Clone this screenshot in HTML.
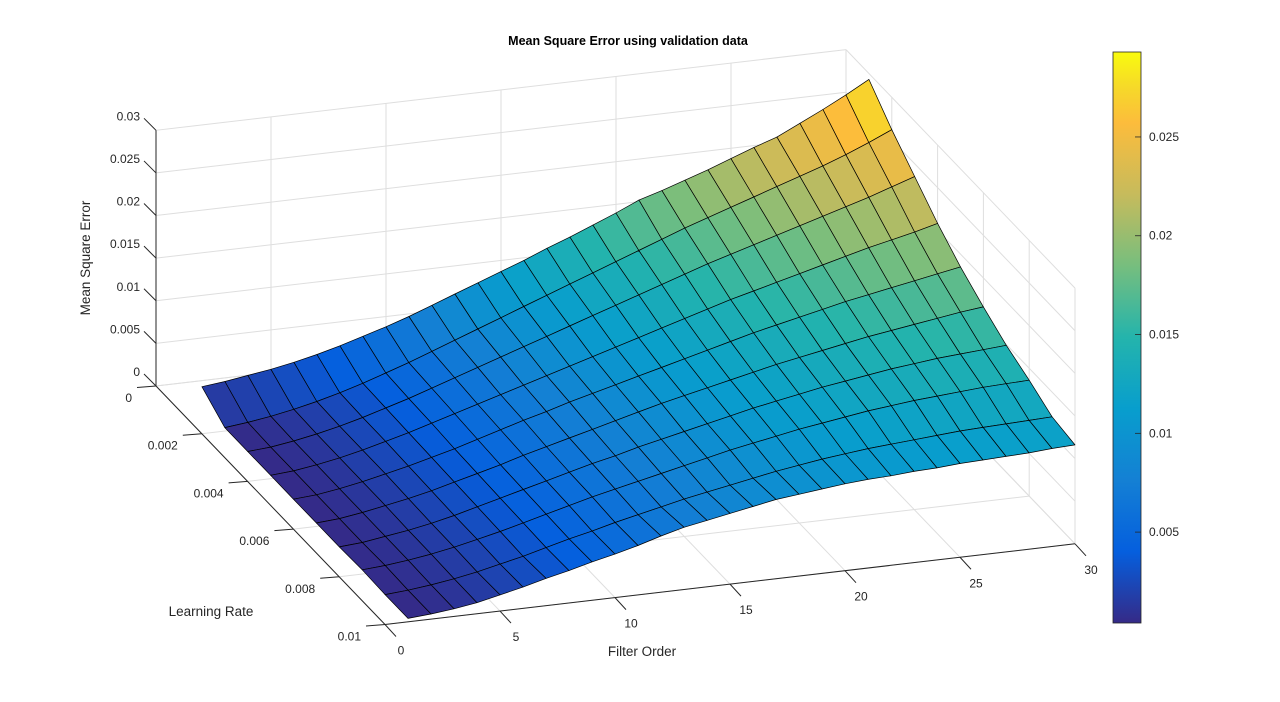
<!DOCTYPE html>
<html>
<head>
<meta charset="utf-8">
<style>
html,body{margin:0;padding:0;background:#fff;}
svg{display:block;font-family:"Liberation Sans",Arial,sans-serif;}
</style>
</head>
<body>
<svg id="chart" width="1280" height="702" viewBox="0 0 1280 702" xmlns="http://www.w3.org/2000/svg">
<defs>
<linearGradient id="parula" x1="0" y1="1" x2="0" y2="0">
<stop offset="0" stop-color="rgb(53,42,135)"/>
<stop offset="0.125" stop-color="rgb(5,95,222)"/>
<stop offset="0.25" stop-color="rgb(20,128,212)"/>
<stop offset="0.375" stop-color="rgb(8,158,205)"/>
<stop offset="0.5" stop-color="rgb(36,180,172)"/>
<stop offset="0.625" stop-color="rgb(118,190,126)"/>
<stop offset="0.75" stop-color="rgb(198,187,92)"/>
<stop offset="0.875" stop-color="rgb(252,188,60)"/>
<stop offset="0.94" stop-color="rgb(246,218,40)"/>
<stop offset="1" stop-color="rgb(249,251,14)"/>
</linearGradient>
</defs>
<rect width="1280" height="702" fill="#fff"/>
<g id="grid"></g>
<g id="axes"></g>
<g id="surface"></g>
<text x="628" y="45" text-anchor="middle" font-size="12.5" font-weight="bold" fill="#000">Mean Square Error using validation data</text>
<text transform="translate(90,258) rotate(-90)" text-anchor="middle" font-size="13.5" fill="#262626">Mean Square Error</text>
<text x="211" y="616" text-anchor="middle" font-size="13.5" fill="#262626">Learning Rate</text>
<text x="642" y="656" text-anchor="middle" font-size="13.5" fill="#262626">Filter Order</text>
<g id="colorbar">
<rect x="1113" y="52" width="28" height="571" fill="url(#parula)" stroke="#262626" stroke-width="0.8"/>
</g>
</svg>
<script>
const filterOrders = [1,2,3,4,5,6,7,8,9,10,11,12,13,14,15,16,17,18,19,20,21,22,23,24,25,26,27,28,29,30];
const learningRates = [0.001,0.002,0.003,0.004,0.005,0.006,0.007,0.008,0.009,0.010];
const mseRow1 = [0.0024,0.0027,0.0031,0.0035,0.0040,0.0046,0.0053,0.0061,0.0069,0.0078,0.0088,0.0098,0.0108,0.0118,0.0128,0.0139,0.0149,0.0160,0.0171,0.0183,0.0191,0.0200,0.0209,0.0219,0.0229,0.0238,0.0251,0.0264,0.0278,0.0293];
const mseRow2 = [0.0004,0.0007,0.0011,0.0016,0.0022,0.0029,0.0037,0.0046,0.0055,0.0065,0.0075,0.0085,0.0095,0.0105,0.0115,0.0125,0.0135,0.0145,0.0155,0.0165,0.0175,0.0184,0.0193,0.0202,0.0211,0.0220,0.0229,0.0239,0.0250,0.0262];
const mseRow3 = [0.0004,0.0006,0.0010,0.0015,0.0021,0.0028,0.0036,0.0044,0.0053,0.0062,0.0071,0.0080,0.0089,0.0098,0.0107,0.0116,0.0125,0.0134,0.0143,0.0152,0.0161,0.0169,0.0177,0.0185,0.0193,0.0201,0.0209,0.0217,0.0226,0.0235];
const mseRow4 = [0.0004,0.0006,0.0010,0.0015,0.0021,0.0028,0.0035,0.0043,0.0051,0.0059,0.0067,0.0075,0.0083,0.0091,0.0099,0.0107,0.0115,0.0123,0.0131,0.0139,0.0147,0.0154,0.0161,0.0168,0.0175,0.0182,0.0189,0.0195,0.0201,0.0208];
const mseRow5 = [0.0004,0.0006,0.0010,0.0015,0.0021,0.0027,0.0034,0.0041,0.0049,0.0057,0.0065,0.0072,0.0080,0.0087,0.0094,0.0101,0.0108,0.0115,0.0122,0.0129,0.0136,0.0142,0.0148,0.0154,0.0160,0.0165,0.0170,0.0175,0.0180,0.0185];
const mseRow6 = [0.0004,0.0006,0.0010,0.0015,0.0020,0.0026,0.0033,0.0040,0.0047,0.0055,0.0062,0.0069,0.0076,0.0083,0.0090,0.0097,0.0103,0.0109,0.0115,0.0121,0.0127,0.0132,0.0137,0.0142,0.0147,0.0151,0.0155,0.0159,0.0163,0.0166];
const mseRow7 = [0.0004,0.0006,0.0010,0.0014,0.0019,0.0025,0.0032,0.0039,0.0046,0.0053,0.0060,0.0067,0.0073,0.0080,0.0086,0.0092,0.0098,0.0104,0.0110,0.0115,0.0120,0.0125,0.0129,0.0133,0.0137,0.0140,0.0143,0.0145,0.0147,0.0149];
const mseRow8 = [0.0005,0.0007,0.0010,0.0014,0.0019,0.0025,0.0031,0.0038,0.0045,0.0052,0.0059,0.0065,0.0071,0.0077,0.0083,0.0089,0.0095,0.0100,0.0105,0.0110,0.0114,0.0118,0.0122,0.0125,0.0128,0.0130,0.0132,0.0134,0.0135,0.0136];
const mseRow9 = [0.0004,0.0006,0.0009,0.0013,0.0018,0.0024,0.0030,0.0037,0.0044,0.0050,0.0057,0.0063,0.0069,0.0075,0.0080,0.0085,0.0090,0.0095,0.0099,0.0103,0.0106,0.0109,0.0111,0.0113,0.0115,0.0117,0.0118,0.0119,0.0120,0.0121];
const mseRow10 = [0.0004,0.0006,0.0009,0.0013,0.0019,0.0025,0.0032,0.0038,0.0045,0.0051,0.0058,0.0066,0.0073,0.0078,0.0083,0.0088,0.0093,0.0096,0.0099,0.0102,0.0104,0.0105,0.0107,0.0108,0.0110,0.0111,0.0112,0.0113,0.0115,0.0116];
const foTicks = [0,5,10,15,20,25,30];
const foTickLabels = ["0","5","10","15","20","25","30"];
const lrTicks = [0,0.002,0.004,0.006,0.008,0.01];
const lrTickLabels = ["0","0.002","0.004","0.006","0.008","0.01"];
const zTicks = [0,0.005,0.01,0.015,0.02,0.025,0.03];
const zTickLabels = ["0","0.005","0.01","0.015","0.02","0.025","0.03"];
const cbTicks = [0.005,0.01,0.015,0.02,0.025];
const cbTickLabels = ["0.005","0.01","0.015","0.02","0.025"];

const mse = [mseRow1,mseRow2,mseRow3,mseRow4,mseRow5,mseRow6,mseRow7,mseRow8,mseRow9,mseRow10];
const NS = "http://www.w3.org/2000/svg";
const FO_MAX = 30, LR_MAX = 0.01, Z_MAX = 0.03;

function px(f, lr, z){ return 156 + 23*f + 22900*lr; }
function py(f, lr, z){ return 386 - 2.69*f + 23850*lr - 8523*z; }
function pt(f, lr, z){ return [px(f,lr,z), py(f,lr,z)]; }

const parulaPos = [0,0.125,0.25,0.375,0.5,0.625,0.75,0.875,0.94,1];
const parulaStops = [[53,42,135],[5,95,222],[20,128,212],[8,158,205],[36,180,172],[118,190,126],[198,187,92],[252,188,60],[246,218,40],[249,251,14]];
function parula(t){
  t = Math.max(0, Math.min(1, t));
  let i = 0;
  while (i < parulaPos.length-2 && t > parulaPos[i+1]) i++;
  const u = (t - parulaPos[i])/(parulaPos[i+1]-parulaPos[i]);
  const a = parulaStops[i], b = parulaStops[i+1];
  return "rgb(" + [0,1,2].map(k => Math.round(a[k]+(b[k]-a[k])*u)).join(",") + ")";
}

function line(parent, p1, p2, stroke, w){
  const l = document.createElementNS(NS, "line");
  l.setAttribute("x1", p1[0]); l.setAttribute("y1", p1[1]);
  l.setAttribute("x2", p2[0]); l.setAttribute("y2", p2[1]);
  l.setAttribute("stroke", stroke); l.setAttribute("stroke-width", w);
  parent.appendChild(l);
  return l;
}
function text(parent, x, y, s, anchor, size){
  const t = document.createElementNS(NS, "text");
  t.setAttribute("x", x); t.setAttribute("y", y);
  t.setAttribute("text-anchor", anchor);
  t.setAttribute("font-size", size);
  t.setAttribute("fill", "#262626");
  t.textContent = s;
  parent.appendChild(t);
  return t;
}

const grid = document.getElementById("grid");
const axes = document.getElementById("axes");
const surf = document.getElementById("surface");
const GC = "#dedede";

zTicks.forEach(z => {
  const l1 = line(grid, pt(0,0,z), pt(FO_MAX,0,z), GC, 1);
  
  
  const l2 = line(grid, pt(FO_MAX,0,z), pt(FO_MAX,LR_MAX,z), GC, 1);
  
  
});
foTicks.forEach(f => {
  const l = line(grid, pt(f,0,0), pt(f,0,Z_MAX), GC, 1);
  
  
  const l2 = line(grid, pt(f,0,0), pt(f,LR_MAX,0), GC, 1);
  
  
});
lrTicks.forEach(lr => {
  const l = line(grid, pt(FO_MAX,lr,0), pt(FO_MAX,lr,Z_MAX), GC, 1);
  
  
  const l2 = line(grid, pt(0,lr,0), pt(FO_MAX,lr,0), GC, 1);
  
  
});

const AX = "#262626";
const zAxis = line(axes, pt(0,0,0), pt(0,0,Z_MAX), AX, 1);


const lrAxis = line(axes, pt(0,0,0), pt(0,LR_MAX,0), AX, 1);


const foAxis = line(axes, pt(0,LR_MAX,0), pt(FO_MAX,LR_MAX,0), AX, 1);



zTicks.forEach((z, k) => {
  const p = pt(0,0,z);
  const tk = line(axes, p, [p[0]-12, p[1]-12], AX, 1);
  
  
  const t = text(axes, p[0]-16, p[1]-10, zTickLabels[k], "end", 12);
  
  
});
lrTicks.forEach((lr, k) => {
  const p = pt(0,lr,0);
  const tk = line(axes, p, [p[0]-19, p[1]+1.5], AX, 1);
  
  
  const t = text(axes, p[0]-24, p[1]+16, lrTickLabels[k], "end", 12);
  
  
});
foTicks.forEach((f, k) => {
  const p = pt(f,LR_MAX,0);
  const tk = line(axes, p, [p[0]+11, p[1]+12], AX, 1);
  
  
  const t = text(axes, p[0]+16, p[1]+30, foTickLabels[k], "middle", 12);
  
  
});

let zmin = Infinity, zmax = -Infinity;
mse.forEach(r => r.forEach(v => { zmin = Math.min(zmin, v); zmax = Math.max(zmax, v); }));
const faces = [];
for (let i = 0; i < learningRates.length-1; i++){
  for (let j = 0; j < filterOrders.length-1; j++){
    const c = [[i,j],[i,j+1],[i+1,j+1],[i+1,j]];
    const zAvg = c.reduce((s,q)=>s+mse[q[0]][q[1]],0)/4;
    const fc = (filterOrders[j]+filterOrders[j+1])/2;
    const lc = (learningRates[i]+learningRates[i+1])/2;
    faces.push({c, zAvg, depth: py(fc, lc, 0)});
  }
}
faces.sort((a,b) => a.depth - b.depth);
faces.forEach(fc => {
  const pts = fc.c.map(q => pt(filterOrders[q[1]], learningRates[q[0]], mse[q[0]][q[1]]).map(v=>v.toFixed(1)).join(",")).join(" ");
  const poly = document.createElementNS(NS, "polygon");
  poly.setAttribute("points", pts);
  poly.setAttribute("fill", parula((fc.zAvg - zmin)/(zmax - zmin)));
  poly.setAttribute("stroke", "#000");
  poly.setAttribute("stroke-width", "0.7");
  poly.setAttribute("stroke-linejoin", "round");
  
  
  surf.appendChild(poly);
});

const cb = document.getElementById("colorbar");
const CB_TOP = 52, CB_BOT = 623;
function cbY(v){ return CB_BOT - (v - zmin)/(zmax - zmin)*(CB_BOT - CB_TOP); }
cbTicks.forEach((v, k) => {
  const y = cbY(v);
  const tk = line(cb, [1135, y], [1141, y], AX, 0.8);
  
  
  const t = text(cb, 1149, y+4, cbTickLabels[k], "start", 12);
  
  
});
</script>
</body>
</html>
